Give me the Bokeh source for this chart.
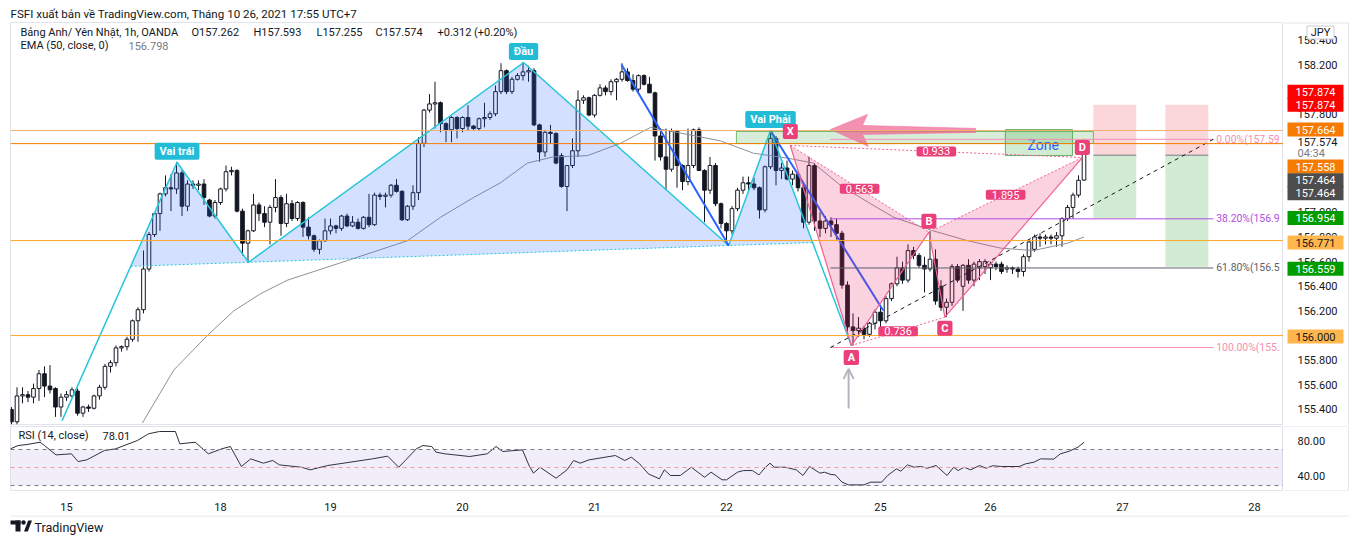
import math
from bokeh.plotting import figure
from bokeh.layouts import column, row
from bokeh.models import (Range1d, FixedTicker, Span, BoxAnnotation, Label, Arrow, OpenHead,
                          ColumnDataSource)
from bokeh.core.properties import value
from bokeh.embed import file_html
from bokeh.resources import INLINE

FONT = "Roboto"
TXT = "#131722"
BORDER = "#e0e3eb"

# ------------------------------------------------------------------ data
bar_start = -10  # bar index 0 = 15 Oct 00:00 (UTC+7), 1h bars, weekend removed
opens = [155.40, 155.30, 155.51, 155.52, 155.50, 155.57, 155.69, 155.59, 155.57, 155.42,
         155.50, 155.51, 155.55, 155.37, 155.42, 155.41, 155.51, 155.58, 155.75, 155.78,
         155.90, 155.91, 155.97, 156.12, 156.21, 156.54, 156.82, 156.99, 157.15, 157.20,
         157.19, 157.32, 157.05, 157.23, 157.22, 157.23, 157.10, 156.97, 157.08, 157.19,
         157.33, 157.34, 157.01, 156.75, 156.85, 157.06, 156.99, 156.92, 157.04, 157.12,
         156.91, 157.07, 156.95, 157.08, 156.88, 156.81, 156.70, 156.77, 156.85, 156.89,
         156.87, 156.97, 156.89, 156.92, 156.87, 156.96, 156.90, 157.14, 157.13, 157.14,
         157.22, 157.17, 156.94, 157.05, 157.16, 157.56, 157.83, 157.88, 157.89, 157.72,
         157.67, 157.77, 157.68, 157.77, 157.70, 157.68, 157.76, 157.77, 157.80, 157.98,
         158.15, 157.98, 158.08, 158.11, 158.14, 158.15, 157.71, 157.49, 157.65, 157.64,
         157.46, 157.21, 157.38, 157.50, 157.91, 157.93, 157.79, 157.95, 158.01, 157.98,
         158.06, 158.08, 158.14, 158.07, 158.00, 158.11, 158.04, 157.97, 157.62, 157.45,
         157.35, 157.66, 157.38, 157.25, 157.38, 157.67, 157.34, 157.18, 157.38, 157.07,
         156.91, 156.85, 157.03, 157.18, 157.24, 157.23, 157.20, 157.02, 157.37, 157.60,
         157.34, 157.36, 157.27, 157.31, 157.20, 156.92, 157.38, 156.93, 156.87, 156.93,
         156.90, 156.83, 156.41, 156.07, 156.04, 156.06, 156.01, 156.10, 156.19, 156.12,
         156.30, 156.42, 156.55, 156.45, 156.69, 156.65, 156.57, 156.54, 156.62, 156.40,
         156.23, 156.27, 156.56, 156.40, 156.57, 156.45, 156.55, 156.56, 156.55, 156.58,
         156.58, 156.54, 156.55, 156.54, 156.52, 156.64, 156.70, 156.80, 156.79, 156.80,
         156.79, 156.81, 156.95, 157.04, 157.14, 157.262]
highs = [155.42, 155.58, 155.58, 155.55, 155.61, 155.72, 155.75, 155.76, 155.58, 155.53,
         155.55, 155.58, 155.57, 155.43, 155.44, 155.52, 155.60, 155.77, 155.80, 155.92,
         155.92, 155.99, 156.13, 156.23, 156.69, 156.84, 157.00, 157.16, 157.30, 157.31,
         157.41, 157.34, 157.26, 157.26, 157.26, 157.27, 157.11, 157.10, 157.20, 157.38,
         157.37, 157.35, 157.03, 156.86, 157.15, 157.08, 157.05, 157.06, 157.27, 157.14,
         157.15, 157.10, 157.09, 157.09, 156.96, 156.82, 156.78, 156.95, 156.95, 156.90,
         156.98, 156.99, 156.97, 156.95, 156.97, 157.15, 157.16, 157.16, 157.16, 157.23,
         157.27, 157.18, 157.06, 157.22, 157.61, 157.84, 157.96, 158.06, 157.90, 157.73,
         157.78, 157.78, 157.78, 157.87, 157.71, 157.77, 157.89, 157.82, 158.03, 158.21,
         158.16, 158.10, 158.13, 158.22, 158.19, 158.17, 157.72, 157.67, 157.71, 157.65,
         157.48, 157.38, 157.60, 157.99, 157.95, 157.94, 157.96, 158.04, 158.03, 158.08,
         158.09, 158.21, 158.17, 158.12, 158.12, 158.12, 158.10, 157.98, 157.68, 157.68,
         157.68, 157.67, 157.39, 157.68, 157.68, 157.69, 157.35, 157.45, 157.40, 157.08,
         156.92, 157.05, 157.20, 157.29, 157.29, 157.28, 157.21, 157.38, 157.66, 157.62,
         157.40, 157.42, 157.34, 157.33, 157.22, 157.45, 157.40, 157.00, 156.97, 156.96,
         156.95, 156.85, 156.44, 156.18, 156.15, 156.08, 156.11, 156.21, 156.24, 156.32,
         156.43, 156.64, 156.60, 156.74, 156.72, 156.67, 156.64, 156.85, 156.70, 156.45,
         156.30, 156.58, 156.58, 156.58, 156.62, 156.60, 156.62, 156.62, 156.60, 156.60,
         156.60, 156.57, 156.56, 156.56, 156.66, 156.78, 156.82, 156.83, 156.82, 156.82,
         156.84, 156.96, 157.06, 157.16, 157.30, 157.593]
lows = [155.28, 155.28, 155.45, 155.46, 155.45, 155.47, 155.50, 155.53, 155.34, 155.34,
        155.47, 155.50, 155.35, 155.34, 155.38, 155.40, 155.48, 155.56, 155.70, 155.75,
        155.87, 155.88, 155.95, 155.95, 156.18, 156.52, 156.80, 156.85, 157.13, 157.01,
        157.15, 156.97, 157.01, 157.19, 157.18, 157.06, 156.96, 156.95, 157.06, 157.17,
        157.30, 157.00, 156.65, 156.59, 156.84, 156.93, 156.88, 156.74, 157.00, 156.81,
        156.88, 156.93, 156.93, 156.80, 156.78, 156.68, 156.66, 156.76, 156.82, 156.83,
        156.85, 156.88, 156.88, 156.86, 156.86, 156.88, 156.89, 157.10, 157.04, 157.12,
        157.16, 156.93, 156.93, 157.02, 157.10, 157.53, 157.81, 157.68, 157.65, 157.57,
        157.57, 157.60, 157.65, 157.66, 157.67, 157.66, 157.69, 157.75, 157.78, 157.96,
        157.96, 157.96, 158.07, 158.07, 158.06, 157.70, 157.41, 157.45, 157.56, 157.39,
        157.20, 157.01, 157.36, 157.45, 157.88, 157.78, 157.77, 157.94, 157.95, 157.95,
        157.91, 158.06, 158.06, 157.98, 157.97, 158.03, 157.97, 157.42, 157.42, 157.18,
        157.33, 157.20, 157.18, 157.22, 157.36, 157.34, 156.92, 157.15, 157.05, 156.87,
        156.74, 156.82, 157.01, 157.15, 157.18, 157.18, 156.95, 157.00, 157.35, 157.22,
        157.27, 157.26, 157.22, 157.17, 156.87, 156.90, 156.85, 156.80, 156.83, 156.80,
        156.78, 156.38, 156.00, 155.92, 155.99, 155.97, 155.99, 156.05, 156.02, 156.10,
        156.28, 156.40, 156.42, 156.43, 156.62, 156.55, 156.35, 156.52, 156.25, 156.20,
        156.15, 156.24, 156.43, 156.20, 156.42, 156.40, 156.45, 156.50, 156.45, 156.53,
        156.50, 156.51, 156.50, 156.47, 156.48, 156.60, 156.68, 156.72, 156.74, 156.74,
        156.72, 156.72, 156.93, 156.95, 157.12, 157.255]
closes = [155.30, 155.51, 155.52, 155.50, 155.57, 155.69, 155.59, 155.56, 155.42, 155.50,
          155.52, 155.56, 155.37, 155.42, 155.41, 155.51, 155.58, 155.75, 155.78, 155.90,
          155.91, 155.97, 156.12, 156.21, 156.54, 156.82, 156.99, 157.15, 157.20, 157.19,
          157.32, 157.05, 157.23, 157.22, 157.23, 157.12, 156.97, 157.08, 157.19, 157.33,
          157.34, 157.01, 156.75, 156.85, 157.06, 156.99, 156.92, 157.04, 157.12, 156.91,
          157.07, 156.95, 157.08, 156.88, 156.81, 156.70, 156.77, 156.85, 156.89, 156.87,
          156.97, 156.89, 156.92, 156.87, 156.96, 156.90, 157.14, 157.13, 157.14, 157.22,
          157.17, 156.94, 157.05, 157.16, 157.56, 157.83, 157.88, 157.89, 157.72, 157.67,
          157.77, 157.68, 157.77, 157.70, 157.68, 157.76, 157.77, 157.80, 157.98, 158.15,
          157.98, 158.08, 158.11, 158.14, 158.15, 157.71, 157.49, 157.65, 157.64, 157.40,
          157.21, 157.38, 157.50, 157.91, 157.93, 157.79, 157.95, 158.01, 157.98, 158.06,
          158.08, 158.14, 158.07, 158.00, 158.11, 158.04, 157.97, 157.62, 157.45, 157.35,
          157.66, 157.38, 157.25, 157.38, 157.67, 157.34, 157.18, 157.38, 157.07, 156.91,
          156.85, 157.03, 157.18, 157.24, 157.23, 157.20, 157.02, 157.37, 157.60, 157.34,
          157.36, 157.27, 157.31, 157.20, 156.92, 157.38, 156.93, 156.87, 156.93, 156.90,
          156.83, 156.41, 156.07, 156.04, 156.06, 156.01, 156.10, 156.19, 156.12, 156.30,
          156.42, 156.55, 156.45, 156.69, 156.65, 156.57, 156.54, 156.62, 156.28, 156.23,
          156.27, 156.56, 156.45, 156.57, 156.45, 156.58, 156.60, 156.60, 156.58, 156.56,
          156.52, 156.55, 156.54, 156.52, 156.64, 156.76, 156.80, 156.79, 156.80, 156.79,
          156.81, 156.95, 157.04, 157.14, 157.26, 157.574]
bar_idx = list(range(bar_start, bar_start + len(closes)))

# EMA(50) (bar index, value)
ema_x = [13.8, 19.5, 25.6, 30.4, 35.3, 40.2, 49.8, 62, 68, 74, 78.9, 83.8, 88.5, 94.7, 100.7,
         106.2, 109.8, 118.9, 124.9, 131.1, 135.8, 140.7, 146.2, 150.4, 157.6, 163.8, 169.8,
         175.8, 182, 185]
ema_y = [155.29, 155.72, 156.00, 156.20, 156.34, 156.45, 156.59, 156.77, 156.96, 157.12, 157.24,
         157.40, 157.45, 157.46, 157.56, 157.69, 157.66, 157.58, 157.48, 157.44, 157.40, 157.22,
         157.07, 156.96, 156.85, 156.77, 156.71, 156.69, 156.75, 156.80]

# RSI(14) (bar index, value)
rsi_x = [-10.2, -8.8, -7.2, -4.8, -4.0, -1.9, 0.9, 2.1, 3.7, 6.9,
         8.9, 12.9, 14.9, 16.9, 19.8, 20.6, 23.4, 25.8, 28.2, 29.8,
         31.8, 33.5, 35.8, 37.5, 38.7, 42.7, 44.3, 47.5, 55.6, 58.4,
         60.4, 61.6, 63.6, 64.8, 66.4, 67.2, 68.8, 73.3, 76.5, 78.1,
         79.3, 82.9, 84.1, 84.9, 86.1, 89.0, 91.0, 92.2, 93.4, 95.0,
         99.8, 101.5, 102.7, 104.2, 105.8, 107.8, 108.7, 109.8, 111.6, 113.6,
         115.2, 116.0, 117.2, 119.2, 120.0, 122.0, 123.1, 124.7, 125.9, 127.1,
         127.9, 128.7, 130.7, 132.7, 133.9, 135.1, 137.0, 137.8, 139.0, 139.8,
         141.0, 142.2, 145.0, 146.2, 148.2, 149.3, 150.9, 151.7, 152.9, 154.1,
         155.3, 156.5, 158.1, 160.1, 161.3, 162.1, 163.2, 164.4, 166.0, 167.2,
         168.4, 170.0, 173.2, 174.4, 175.9, 177.1, 179.5, 180.7, 182.3, 183.9,
         185.0]
rsi_v = [70.7, 74.4, 75.5, 78.1, 74.4, 64.0, 65.2, 56.6, 58.5, 68.9,
         70.7, 80.0, 87.4, 90.0, 90.0, 76.3, 78.1, 65.2, 70.7, 73.3,
         51.1, 59.6, 54.8, 57.8, 52.9, 50.3, 47.4, 52.2, 59.6, 62.6,
         50.3, 57.8, 70.7, 74.4, 73.3, 67.0, 65.2, 62.2, 65.2, 73.3,
         67.8, 69.6, 52.2, 43.7, 50.3, 38.1, 47.4, 57.8, 54.8, 58.5,
         63.3, 57.8, 61.5, 54.1, 42.9, 37.4, 47.4, 41.1, 41.1, 50.3,
         42.9, 39.2, 44.8, 36.3, 36.3, 44.8, 46.6, 46.6, 41.8, 50.3,
         54.8, 50.3, 50.3, 47.4, 41.1, 51.1, 43.7, 44.8, 42.2, 41.8,
         33.7, 30.7, 30.7, 33.7, 33.7, 41.1, 48.5, 45.9, 52.9, 50.3,
         51.1, 49.2, 52.2, 41.1, 50.3, 46.6, 50.3, 47.4, 52.2, 49.2,
         51.9, 51.1, 51.1, 54.1, 55.9, 59.6, 59.3, 65.2, 68.1, 72.6,
         78.0]

day_ticks = [0, 28, 48, 72, 96, 120, 148, 168, 192, 216]
day_labels = ["15", "18", "19", "20", "21", "22", "25", "26", "27", "28"]
price_ticks = [155.4, 155.6, 155.8, 156.2, 156.4, 156.6, 156.8, 157.0, 157.8, 158.2, 158.4]
rsi_ticks = [40, 80]

header_text = "FSFI xuất bản về TradingView.com, Tháng 10 26, 2021 17:55 UTC+7"
legend_parts = ["Bảng Anh/ Yên Nhật, 1h, OANDA", "O157.262", "H157.593", "L157.255",
                "C157.574", "+0.312 (+0.20%)"]
ema_legend = ["EMA (50, close, 0)", "156.798"]
rsi_legend = ["RSI (14, close)", "78.01"]
brand = "TradingView"

# horizontal support / resistance lines
h_levels = [157.664, 157.558, 156.771, 156.000]
h_colors = ["#f8ae6e", "#f57c00", "#ffa726", "#ffa726"]

# price-axis tags
tag_text = ["157.874", "157.874", "157.664", "157.558", "157.464", "157.464",
            "156.954", "156.771", "156.559", "156.000"]
tag_price = [157.874, 157.874, 157.664, 157.558, 157.464, 157.464,
             156.954, 156.771, 156.559, 156.000]
tag_bg = ["#ff0000", "#ff0000", "#f57c00", "#f57c00", "#4d4d4d", "#4d4d4d",
          "#009c00", "#ffb74d", "#009c00", "#ffb74d"]
tag_fg = ["white", "white", "white", "white", "white", "white",
          "white", TXT, "white", TXT]
tag_shift = [13, 0, 1, -23, -25, -38, 0, -2, -2, -1]   # stacking offsets (px)
last_price = 157.574
countdown = "04:34"
currency = "JPY"

# ---- drawings (anchor points in bar index / price)
hs_x = [-0.8, 20.1, 33.1, 83.1, 120.4, 128.0, 142.7]
hs_y = [155.31, 157.407, 156.595, 158.216, 156.731, 157.664, 155.919]
hs_names = {1: "Vai trái", 3: "Đầu", 5: "Vai Phải"}

blue_x0 = [100.9, 128.0]
blue_y0 = [158.20, 157.664]
blue_x1 = [120.4, 148.5]
blue_y1 = [156.731, 156.203]

xabcd_x = [131.6, 142.7, 156.8, 159.7, 184.7]
xabcd_y = [157.543, 155.919, 156.839, 156.149, 157.445]
xabcd_names = ["X", "A", "B", "C", "D"]
ratio_pairs = [(0, 2), (1, 3), (2, 4), (0, 4)]
ratio_text = ["0.563", "0.736", "1.895", "0.933"]

zone_box = (121.8, 186.7, 157.559, 157.656)
zone_inner = (170.7, 182.9, 157.461, 157.672)
zone_text_pos = (177.6, 157.55)

arrow_tip = (138.9, 157.673)
arrow_tail = (165.3, 157.665)

pos_left = [186.7, 199.8]
pos_right = [194.5, 207.6]
pos_entry = 157.464
pos_stop = 157.874
pos_target = [156.954, 156.559]

fib_x = (138.9, 208.5)
fib_lo, fib_hi = 155.903, 157.593
fib_levels = [0.0, 0.382, 0.618, 1.0]
fib_colors = ["#f48fb1", "#b04ee0", "#5d606b", "#f48fb1"]
# level captions as far as they are visible before the price scale cuts them
fib_captions = ["0.00%(157.59", "38.20%(156.9", "61.80%(156.5", "100.00%(155."]

up_arrow = (142.2, 155.408, 155.73)

# ------------------------------------------------------------------ geometry
W, H_MAIN, H_RSI, H_FOOT = 1360, 425, 90, 25
FL, FR, FT = 10, 1283, 22
AXW = W - FR
X0, X1 = -10.18, 221.27
Y0, Y1 = 155.270, 158.541
R0, R1 = 24.44, 95.56
PXB = (FR - FL) / (X1 - X0)
PXP = (H_MAIN - FT) / (Y1 - Y0)
PXR = 64 / (R1 - R0)


def cx(xp):
    return X0 + (xp - FL) / PXB


def cy(yp):
    return Y1 - (yp - FT) / PXP


def ry(yp):
    return R1 - (yp - 426) / PXR


def fig(**kw):
    f = figure(toolbar_location=None, output_backend="svg", **kw)
    f.grid.visible = False
    return f


xr = Range1d(X0, X1)
yr = Range1d(Y0, Y1)
p = fig(width=FR, height=H_MAIN, x_range=xr, y_range=yr, x_axis_location=None,
        y_axis_location=None, min_border_left=FL, min_border_right=0, min_border_top=FT,
        min_border_bottom=0, outline_line_color=BORDER, title=header_text)
p.title.text_font = FONT
p.title.text_font_size = "11.6px"
p.title.text_font_style = "normal"
p.title.text_color = TXT
p.title.standoff = 4
p.title.align = "left"

# horizontal levels
for lv, col in zip(h_levels, h_colors):
    p.add_layout(Span(location=lv, dimension="width", line_color=col, line_width=1))

# long / short position boxes
for l, r_, t in zip(pos_left, pos_right, pos_target):
    p.quad(left=l, right=r_, bottom=pos_entry, top=pos_stop, fill_color="#f23645",
           fill_alpha=0.2, line_color=None)
    p.quad(left=l, right=r_, bottom=t, top=pos_entry, fill_color="#4caf50",
           fill_alpha=0.25, line_color=None)
    p.segment(x0=l, y0=pos_entry, x1=r_, y1=pos_entry, line_color="#787b86", line_width=1)

# candles
up = [c >= o for o, c in zip(opens, closes)]
src = ColumnDataSource(dict(
    x=bar_idx, h=highs, l=lows,
    top=[max(o, c) for o, c in zip(opens, closes)],
    bot=[min(o, c) for o, c in zip(opens, closes)],
    fill=["white" if u else TXT for u in up]))
p.segment(x0="x", y0="l", x1="x", y1="h", source=src, line_color=TXT, line_width=1)
p.vbar(x="x", top="top", bottom="bot", width=0.66, fill_color="fill", line_color=TXT,
       line_width=1, source=src)

# EMA
p.line(ema_x, ema_y, line_color="#8f9199", line_width=1)


def intersect(a1, a2, b1, b2):
    (x1, y1), (x2, y2) = a1, a2
    (x3, y3), (x4, y4) = b1, b2
    d = (x1 - x2) * (y3 - y4) - (y1 - y2) * (x3 - x4)
    t = ((x1 - x3) * (y3 - y4) - (y1 - y3) * (x3 - x4)) / d
    return (x1 + t * (x2 - x1), y1 + t * (y2 - y1))


# head and shoulders
pts = list(zip(hs_x, hs_y))
neck_a, neck_b = pts[2], pts[4]
left_pt = intersect(pts[0], pts[1], neck_a, neck_b)
right_pt = intersect(pts[5], pts[6], neck_a, neck_b)
poly = [left_pt] + pts[1:6] + [right_pt]
p.patch([q[0] for q in poly], [q[1] for q in poly], fill_color="#2962ff", fill_alpha=0.2,
        line_color=None)
p.line(hs_x, hs_y, line_color="#26c6da", line_width=1.5)
p.line([left_pt[0], right_pt[0]], [left_pt[1], right_pt[1]], line_color="#26c6da",
       line_width=1, line_dash="2 2")

# blue trend lines
p.segment(x0=blue_x0, y0=blue_y0, x1=blue_x1, y1=blue_y1, line_color="#2962ff", line_width=2)

# zone rectangles
p.quad(left=zone_box[0], right=zone_box[1], bottom=zone_box[2], top=zone_box[3],
       fill_color="#4caf50", fill_alpha=0.22, line_color="#4caf50", line_alpha=0.8)
p.quad(left=zone_inner[0], right=zone_inner[1], bottom=zone_inner[2], top=zone_inner[3],
       fill_color="#4caf50", fill_alpha=0.25, line_color="#43a047", line_alpha=0.8)
p.text(x=[zone_text_pos[0]], y=[zone_text_pos[1]], text=["Zone"], text_color="#2962ff",
       text_font=value(FONT), text_font_size=value("14px"), text_align="center",
       text_baseline="middle")

# harmonic XABCD
X = list(zip(xabcd_x, xabcd_y))
for tri in ([0, 1, 2], [2, 3, 4]):
    p.patch([X[i][0] for i in tri], [X[i][1] for i in tri], fill_color="#e91e63",
            fill_alpha=0.2, line_color=None)
p.line(xabcd_x, xabcd_y, line_color="#f06292", line_width=1.2)
for (i, j) in ratio_pairs:
    p.segment(x0=X[i][0], y0=X[i][1], x1=X[j][0], y1=X[j][1], line_color="#f06292",
              line_width=1, line_dash="2 2")

# pink arrow (pointing left)
tx, ty = arrow_tip
ex, ey = arrow_tail
hl = 37 / PXB
pu = 1 / PXP
ax_pts = [(tx, ty), (tx + hl, ty + 15 * pu), (tx + hl - 5 / PXB, ty + 4 * pu),
          (ex, ey + 2 * pu), (ex, ey - 2 * pu), (tx + hl - 5 / PXB, ty - 5 * pu),
          (tx + hl + 1 / PXB, ty - 17 * pu)]
p.patch([q[0] for q in ax_pts], [q[1] for q in ax_pts], fill_color="#f06292",
        fill_alpha=0.7, line_color="#f06292", line_alpha=0.5)

# fibonacci retracement
fib_prices = [fib_hi - lv * (fib_hi - fib_lo) for lv in fib_levels]
p.segment(x0=[fib_x[0]] * 4, y0=fib_prices, x1=[fib_x[1]] * 4, y1=fib_prices,
          line_color=fib_colors, line_width=1)
p.segment(x0=fib_x[0], y0=fib_lo, x1=fib_x[1], y1=fib_hi, line_color=TXT, line_width=1,
          line_dash="4 4")
fib_src = ColumnDataSource(dict(x=[fib_x[1] + 3 / PXB] * 4, y=fib_prices, t=fib_captions,
                                c=fib_colors))
p.text(x="x", y="y", text="t", text_color="c", source=fib_src, text_font=value(FONT),
       text_font_size=value("10.4px"), text_baseline="middle", text_align="left")

# grey up arrow
p.add_layout(Arrow(end=OpenHead(size=10, line_color="#b2b5be", line_width=2),
                   x_start=up_arrow[0], y_start=up_arrow[1], x_end=up_arrow[0],
                   y_end=up_arrow[2], line_color="#b2b5be", line_width=2))


def tag(f, x, y, text, bg, fg="white", yo=0, bold=False, size="11px", padx=6, pady=1):
    f.add_layout(Label(x=x, y=y, y_offset=yo, text=text, text_align="center",
                       text_baseline="middle", text_color=fg, text_font=FONT,
                       text_font_size=size, text_font_style="bold" if bold else "normal",
                       background_fill_color=bg, border_radius=2,
                       padding=dict(left=padx, right=padx, top=pady, bottom=pady)))


for i, name in hs_names.items():
    tag(p, hs_x[i], hs_y[i], name, "#22bcd6", yo=11, bold=True, padx=5, pady=2)

letter_off = [14, -12, 11, -11, 10]
for (x, y), n, o in zip(X, xabcd_names, letter_off):
    tag(p, x, y, n, "#ec407a", yo=o, bold=True, padx=4, pady=1)
for (i, j), t in zip(ratio_pairs, ratio_text):
    tag(p, (X[i][0] + X[j][0]) / 2, (X[i][1] + X[j][1]) / 2, t, "#ec407a", padx=6, pady=1)

# legend texts
leg_px = [20, 191, 253, 316, 375, 437]
for xp, t in zip(leg_px, legend_parts):
    p.add_layout(Label(x=cx(xp), y=cy(32), text=t, text_font=FONT, text_font_size="11px",
                       text_color=TXT, text_baseline="middle"))
p.add_layout(Label(x=cx(20), y=cy(45), text=ema_legend[0], text_font=FONT,
                   text_font_size="11px", text_color=TXT, text_baseline="middle"))
p.add_layout(Label(x=cx(128), y=cy(45), text=ema_legend[1], text_font=FONT,
                   text_font_size="11px", text_color="#787b86", text_baseline="middle"))

# ------------------------------------------------------------------ price scale column
pa = fig(width=AXW, height=H_MAIN, x_range=Range1d(0, AXW), y_range=yr,
         x_axis_location=None, y_axis_location=None, min_border_left=0, min_border_right=0,
         min_border_top=FT, min_border_bottom=0, outline_line_color=None)
pa.segment(x0=0, y0=Y1, x1=65, y1=Y1, line_color=BORDER, line_width=2)
pa.segment(x0=65, y0=Y0, x1=65, y1=Y1, line_color=BORDER, line_width=1)
pa.text(x=[14] * len(price_ticks), y=price_ticks, text=["%.3f" % t for t in price_ticks],
        text_color=TXT, text_font=value(FONT), text_font_size=value("11px"),
        text_baseline="middle", text_align="left")
tag_y = [pr + o / PXP for pr, o in zip(tag_price, tag_shift)]
pa.rect(x=[32] * len(tag_y), y=tag_y, width=56, height=14, height_units="screen",
        fill_color=tag_bg, line_color=None)
pa.text(x=[32] * len(tag_y), y=tag_y, text=tag_text, text_color=tag_fg,
        text_font=value(FONT), text_font_size=value("11px"), text_baseline="middle",
        text_align="center")
pa.text(x=[14, 14], y=[last_price, last_price - 12 / PXP], text=["%.3f" % last_price, countdown],
        text_color=[TXT, "#787b86"], text_font=value(FONT), text_font_size=value("11px"),
        text_baseline="middle", text_align="left")
pa.rect(x=[37], y=[cy(32)], width=27, height=13, height_units="screen",
        fill_color="white", line_color="#c9ccd4")
pa.text(x=[37], y=[cy(32)], text=[currency], text_color=TXT, text_font=value(FONT),
        text_font_size=value("11px"), text_baseline="middle", text_align="center")

# ------------------------------------------------------------------ RSI pane
rr = Range1d(R0, R1)
r = fig(width=FR, height=H_RSI, x_range=xr, y_range=rr, y_axis_location=None,
        min_border_left=FL, min_border_right=0, min_border_top=1,
        min_border_bottom=H_RSI - 65, outline_line_color=BORDER)
r.add_layout(BoxAnnotation(bottom=30, top=70, fill_color="#7e57c2", fill_alpha=0.1,
                           line_color=None))
for lv, col in ((70, "#787b86"), (30, "#787b86"), (50, "#ef9a9a")):
    r.add_layout(Span(location=lv, dimension="width", line_color=col, line_width=1,
                      line_dash="4 4"))
r.line(rsi_x, rsi_v, line_color="#2a2e39", line_width=1)
r.add_layout(Label(x=cx(18), y=ry(435), text=rsi_legend[0], text_font=FONT,
                   text_font_size="11px", text_color=TXT, text_baseline="middle"))
r.add_layout(Label(x=cx(102), y=ry(435), text=rsi_legend[1], text_font=FONT,
                   text_font_size="11px", text_color=TXT, text_baseline="middle"))

xa = r.xaxis[0]
xa.ticker = FixedTicker(ticks=day_ticks)
xa.major_label_overrides = {t: l for t, l in zip(day_ticks, day_labels)}
xa.major_tick_line_color = None
xa.minor_tick_line_color = None
xa.axis_line_color = None
xa.major_label_standoff = 6
xa.major_label_text_font = FONT
xa.major_label_text_font_size = "11px"
xa.major_label_text_color = TXT

ra = fig(width=AXW, height=H_RSI, x_range=Range1d(0, AXW), y_range=rr,
         x_axis_location=None, y_axis_location=None, min_border_left=0, min_border_right=0,
         min_border_top=1, min_border_bottom=H_RSI - 65, outline_line_color=None)
ra.segment(x0=[0, 0], y0=[R0, R1], x1=[65, 65], y1=[R0, R1], line_color=BORDER, line_width=1)
ra.segment(x0=65, y0=R0, x1=65, y1=R1, line_color=BORDER, line_width=1)
ra.text(x=[14] * len(rsi_ticks), y=rsi_ticks, text=["%.2f" % t for t in rsi_ticks],
        text_color=TXT, text_font=value(FONT), text_font_size=value("11px"),
        text_baseline="middle", text_align="left")

# ------------------------------------------------------------------ footer strip
f = fig(width=W, height=H_FOOT, x_range=Range1d(0, W), y_range=Range1d(0, H_FOOT),
        x_axis_location=None, y_axis_location=None, min_border_left=0, min_border_right=0,
        min_border_top=0, min_border_bottom=0, outline_line_color=None)
f.segment(x0=FL, y0=H_FOOT - 0.5, x1=1348, y1=H_FOOT - 0.5, line_color=BORDER, line_width=1)
f.quad(left=[10, 15], right=[20, 20], bottom=[16, 9], top=[20, 20], fill_color=TXT,
       line_color=None)
f.circle(x=[23], y=[18], radius=2.2, fill_color=TXT, line_color=None)
f.patch([23.5, 27.3, 31.5, 27.7], [9, 9, 20, 20], fill_color=TXT, line_color=None)
f.text(x=[34], y=[13.5], text=[brand], text_color=TXT, text_font=value(FONT),
       text_font_size=value("12.5px"), text_baseline="middle", text_align="left")

layout = column(row(p, pa, spacing=0), row(r, ra, spacing=0), f, spacing=0)
open("out.html", "w").write(file_html(layout, INLINE))
